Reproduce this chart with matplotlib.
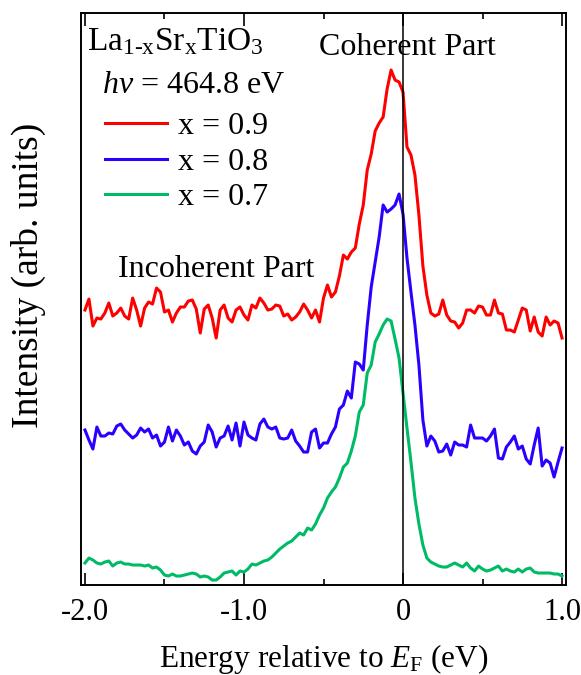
import numpy as np
import matplotlib
matplotlib.use("Agg")
import matplotlib.pyplot as plt
from matplotlib.ticker import MultipleLocator

plt.rcParams['font.family'] = ['Liberation Serif', 'DejaVu Serif']
plt.rcParams['mathtext.fontset'] = 'custom'
plt.rcParams['mathtext.rm'] = 'Liberation Serif'
plt.rcParams['mathtext.it'] = 'Liberation Serif:italic'

# energy grid (eV, relative to E_F)
energy = np.round(np.linspace(-2.0, 1.0, 121), 3)

# spectra as plotted (offsets included), arb. units
x09 = [275, 286, 259, 267, 266, 272, 282, 269, 272, 277,
       269, 266, 287, 275, 259, 277, 283, 281, 297, 293,
       273, 275, 263, 272, 278, 278, 284, 285, 276, 252,
       276, 280, 267, 247, 275, 280, 267, 263, 275, 278,
       270, 265, 280, 277, 287, 282, 275, 276, 280, 279,
       269, 271, 265, 268, 273, 281, 275, 267, 275, 263,
       287, 300, 288, 293, 309, 330, 326, 333, 337, 361,
       380, 415, 431, 454, 462, 468, 496, 515, 505, 503,
       493, 438, 430, 410, 370, 319, 290, 272, 269, 271,
       285, 270, 264, 263, 257, 262, 275, 275, 272, 279,
       278, 270, 270, 285, 272, 271, 255, 255, 253, 265,
       277, 275, 254, 268, 253, 249, 268, 260, 264, 262,
       247]

x08 = [155, 145, 136, 158, 149, 149, 152, 151, 159, 161,
       155, 151, 147, 150, 157, 153, 156, 147, 150, 139,
       143, 158, 144, 155, 149, 140, 143, 134, 131, 139,
       143, 160, 153, 138, 147, 149, 159, 145, 162, 139,
       163, 150, 147, 145, 161, 166, 158, 156, 158, 147,
       146, 147, 155, 144, 139, 133, 133, 153, 156, 137,
       142, 142, 151, 158, 176, 180, 194, 187, 223, 221,
       215, 260, 298, 323, 348, 380, 373, 376, 380, 391,
       371, 327, 293, 260, 220, 165, 139, 149, 144, 133,
       134, 141, 130, 143, 140, 140, 138, 160, 147, 147,
       147, 144, 149, 156, 127, 126, 138, 143, 149, 136,
       139, 126, 121, 140, 157, 119, 125, 122, 108, 123,
       137]

x07 = [22, 27, 25, 22, 21, 23, 24, 19, 22, 23,
       21, 21, 20, 20, 20, 19, 20, 17, 18, 15,
       10, 9, 11, 9, 9, 10, 11, 12, 11, 8,
       9, 8, 5, 5, 8, 12, 13, 14, 10, 14,
       13, 16, 21, 20, 22, 24, 25, 28, 32, 36,
       39, 42, 44, 48, 52, 50, 57, 55, 61, 70,
       77, 87, 93, 98, 107, 118, 122, 134, 149, 173,
       180, 212, 220, 243, 251, 260, 266, 264, 246, 227,
       192, 157, 123, 87, 61, 40, 27, 23, 21, 19,
       18, 18, 20, 22, 20, 18, 22, 17, 14, 19,
       16, 14, 15, 17, 19, 14, 16, 14, 13, 16,
       13, 16, 17, 13, 12, 12, 12, 12, 11, 11,
       9]

labels = ['x = 0.9', 'x = 0.8', 'x = 0.7']
colors = ['#ff0000', '#2c00ff', '#00bb66']

fig = plt.figure(figsize=(5.81, 6.75), dpi=100)
ax = fig.add_axes([0.1394, 0.1333, 0.8348, 0.8474])

for y, lab, c in zip([x09, x08, x07], labels, colors):
    ax.plot(energy, y, color=c, lw=2.2, label=lab)

ax.axvline(0, color='black', lw=1.1)

ax.set_xlim(-2.025, 1.025)
ax.set_ylim(0, 572)
ax.set_yticks([])
ax.xaxis.set_minor_locator(MultipleLocator(0.5))
ax.set_xticks([-2, -1, 0, 1])
ax.set_xticklabels(['-2.0', '-1.0', '0', '1.0'])
ax.tick_params(axis='x', which='major', direction='in', top=True,
               length=9, width=1.2, labelsize=22, pad=9)
ax.tick_params(axis='x', which='minor', direction='in', top=True,
               length=4.5, width=1.2)
for s in ax.spines.values():
    s.set_linewidth(1.4)

ax.set_xlabel(r'Energy relative to $E_{\mathrm{F}}$ (eV)', fontsize=22.5, labelpad=11)
ax.set_ylabel('Intensity (arb. units)', fontsize=27)
ax.yaxis.set_label_coords(-0.072, 0.542)

ax.text(0.012, 0.935, r'La$_{\text{1-x}}$Sr$_{\text{x}}$TiO$_{3}$', transform=ax.transAxes,
        fontsize=24, ha='left', va='baseline')
ax.text(0.043, 0.860, r'$h\nu$ = 464.8 eV', transform=ax.transAxes,
        fontsize=23, ha='left', va='baseline')
ax.text(0.674, 0.927, 'Coherent Part', transform=ax.transAxes, fontsize=23,
        ha='center', va='baseline')
ax.text(0.076, 0.538, 'Incoherent Part', transform=ax.transAxes, fontsize=23,
        ha='left', va='baseline')

ax.legend(loc='upper left', bbox_to_anchor=(0.003, 0.866), frameon=False,
          fontsize=23, handlelength=1.94, handletextpad=0.34,
          labelspacing=0.19, borderaxespad=0.3)

fig.savefig('out.png', dpi=100)
